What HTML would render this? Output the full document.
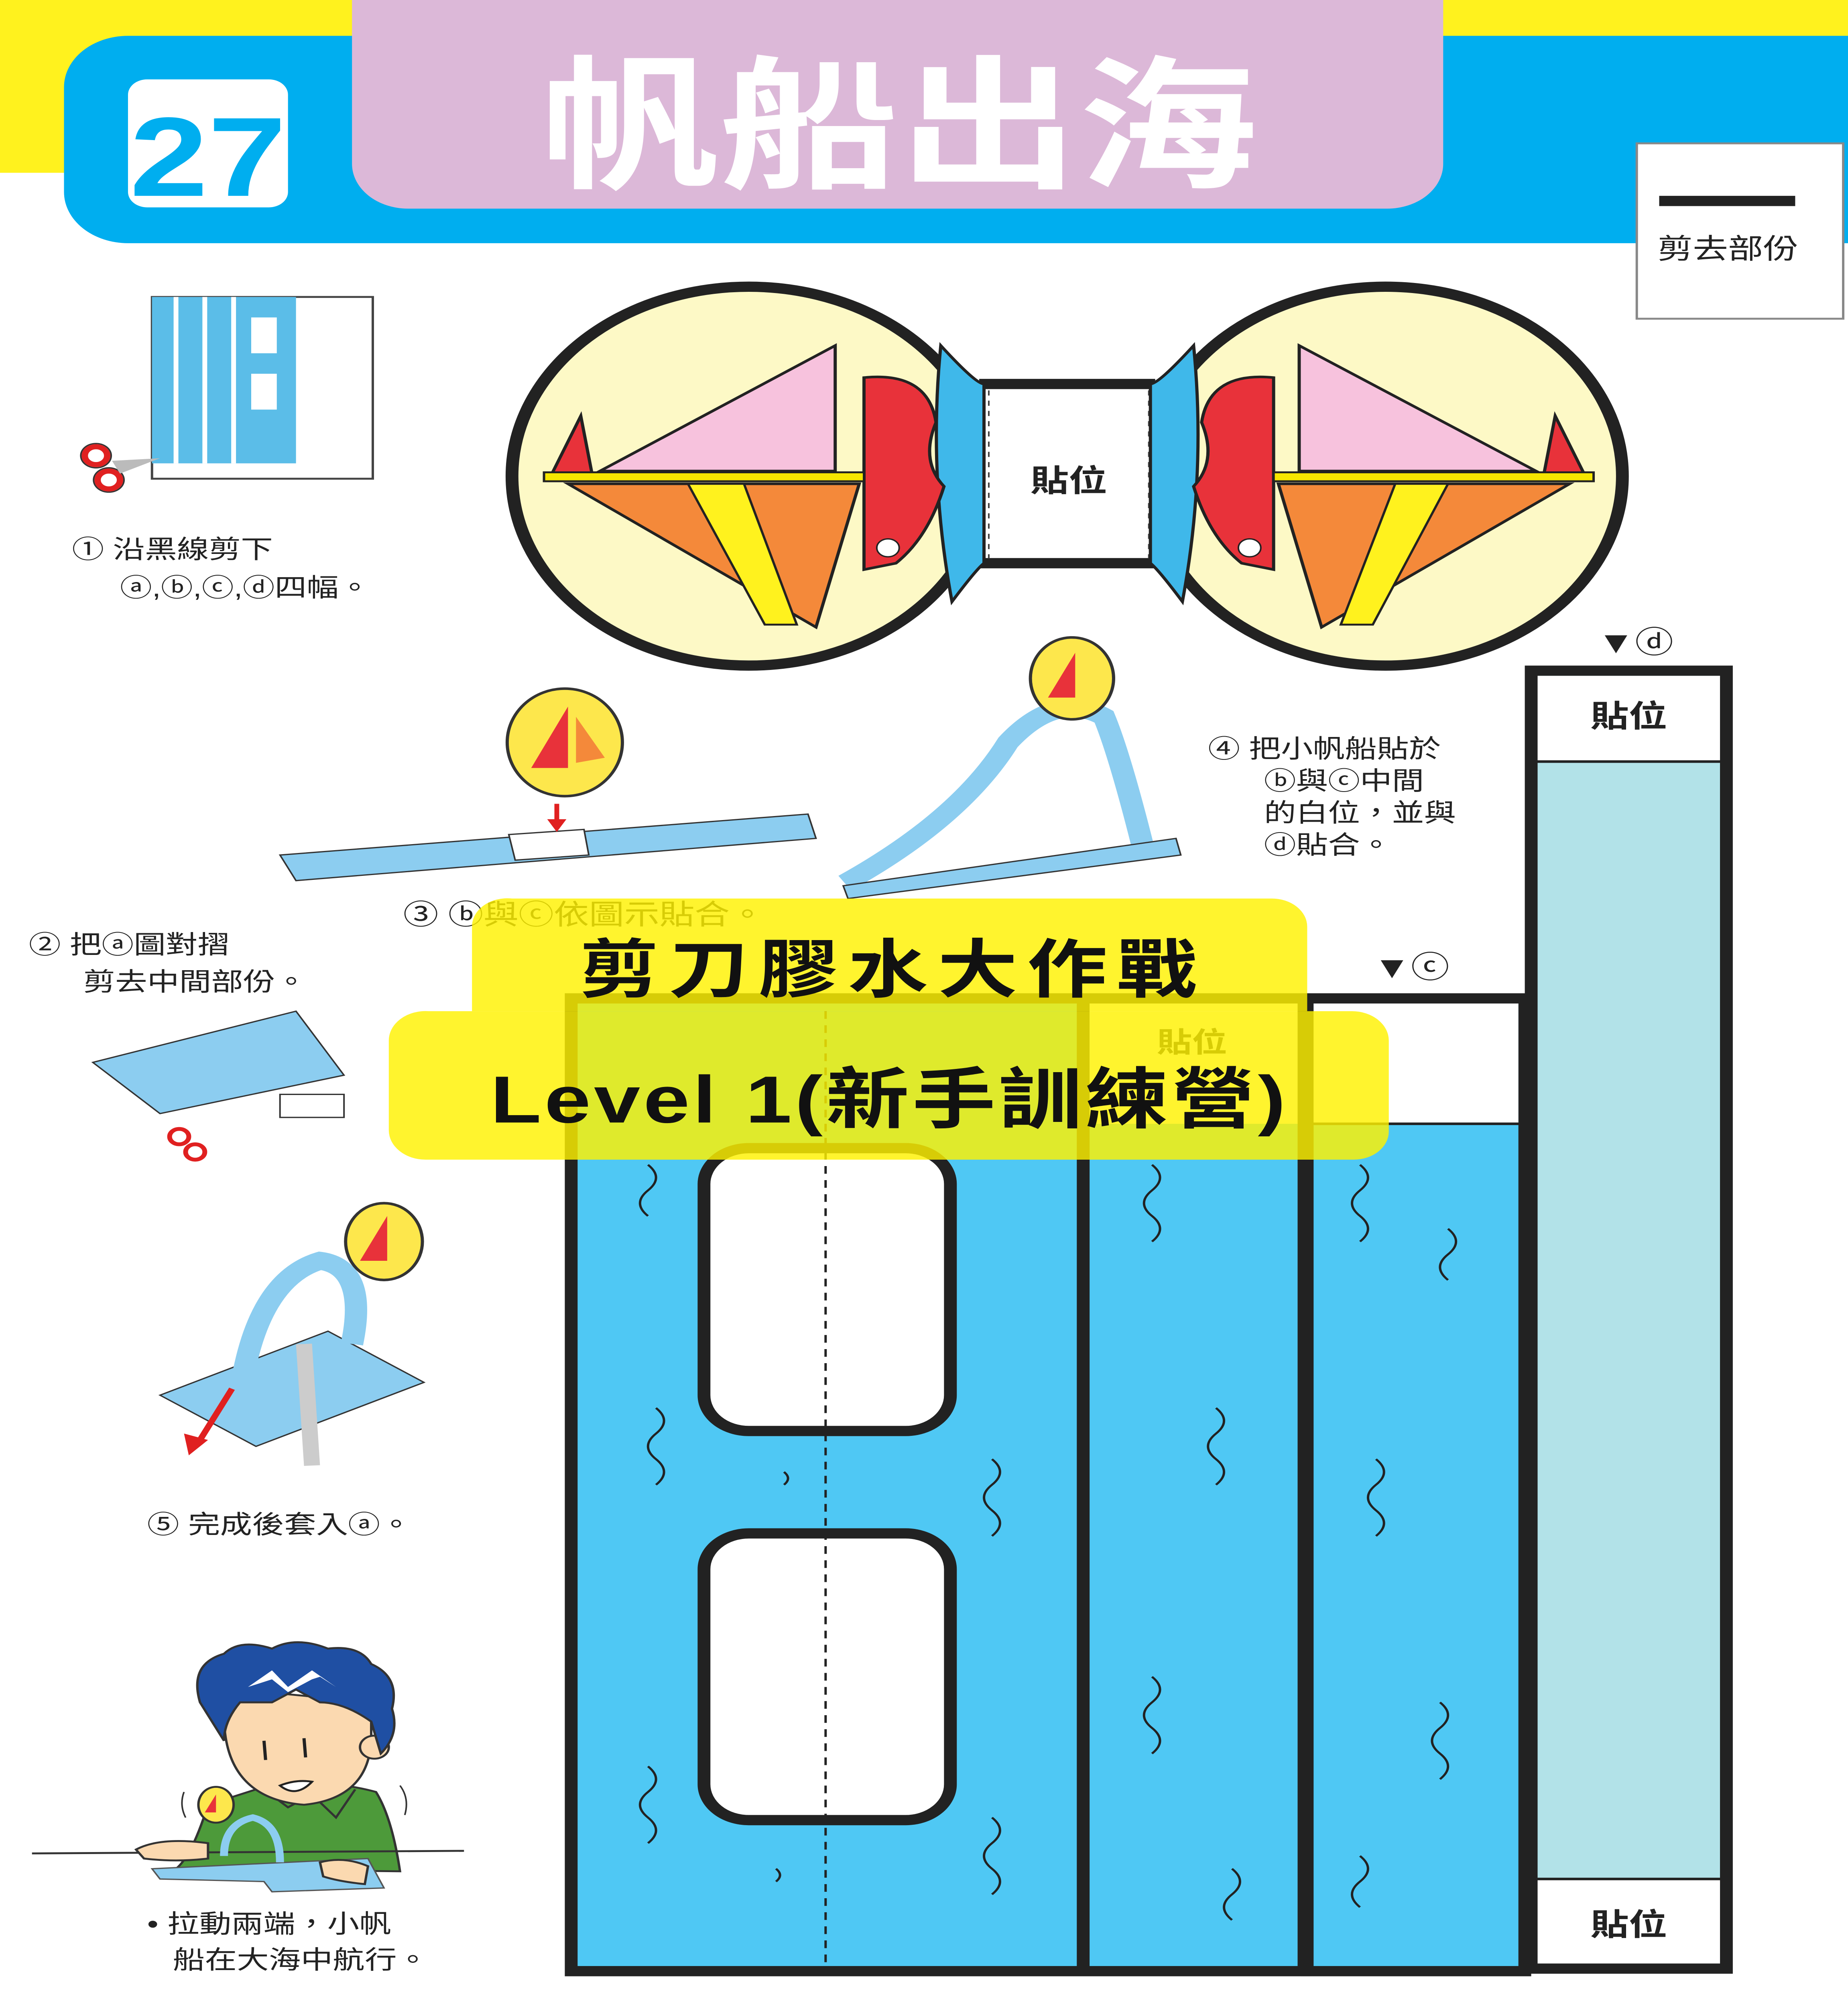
<!DOCTYPE html>
<html><head><meta charset="utf-8">
<style>
html,body{margin:0;padding:0;background:#fff;width:100%;height:100%;overflow:hidden;}
svg{display:block;position:fixed;left:0;top:0;width:100vw;height:100vh;}
text{font-family:"Liberation Sans","Noto Sans CJK TC",sans-serif;}
</style></head>
<body>
<svg viewBox="0 0 1155 1568" preserveAspectRatio="none" xmlns="http://www.w3.org/2000/svg">
<rect width="1155" height="1568" fill="#fff"/>
<!-- header -->
<rect x="0" y="0" width="230" height="135" fill="#fff21e"/>
<rect x="880" y="0" width="275" height="40" fill="#fff21e"/>
<path d="M80 28 H1155 V190 H80 A40 40 0 0 1 40 150 V68 A40 40 0 0 1 80 28Z" fill="#00aeef"/>
<rect x="80" y="62" width="100" height="100" rx="12" fill="#fff"/>
<text x="130" y="153" font-size="88" font-weight="bold" fill="#00aeef" text-anchor="middle" font-family="Liberation Sans,sans-serif">27</text>
<path d="M220 0 H902 V128 A35 35 0 0 1 867 163 H255 A35 35 0 0 1 220 128Z" fill="#dcb8d8"/>
<text x="562" y="138" font-size="112" font-weight="bold" fill="#fff" text-anchor="middle">帆船出海</text>
<rect x="1023" y="112" width="129" height="137" fill="#fff" stroke="#888" stroke-width="1.5"/>
<rect x="1037" y="153" width="85" height="8" fill="#222"/>
<text x="1080" y="202" font-size="22" text-anchor="middle" fill="#222" font-family="Noto Serif CJK SC,serif">剪去部份</text>

<!-- step1 illustration -->
<rect x="95" y="232" width="138" height="142" fill="#fff" stroke="#444" stroke-width="1.5"/>
<rect x="95" y="232" width="90" height="130" fill="#5bbde8"/>
<line x1="110" y1="232" x2="110" y2="362" stroke="#fff" stroke-width="3"/>
<line x1="128" y1="232" x2="128" y2="362" stroke="#fff" stroke-width="3"/>
<line x1="146" y1="232" x2="146" y2="362" stroke="#fff" stroke-width="3"/>
<rect x="157" y="248" width="16" height="28" fill="#fff"/><rect x="157" y="292" width="16" height="28" fill="#fff"/>
<circle cx="60" cy="356" r="7" fill="none" stroke="#e02020" stroke-width="4"/><circle cx="68" cy="375" r="7" fill="none" stroke="#e02020" stroke-width="4"/>
<circle cx="60" cy="356" r="9.5" fill="none" stroke="#333" stroke-width="1"/><circle cx="68" cy="375" r="9.5" fill="none" stroke="#333" stroke-width="1"/>
<path d="M70 360 L100 358 L75 370Z" fill="#bbb"/>
<text x="45" y="436" font-size="20" fill="#222">① 沿黑線剪下</text>
<text x="75" y="466" font-size="20" fill="#222">ⓐ,ⓑ,ⓒ,ⓓ四幅。</text>

<!-- glasses -->
<circle cx="468" cy="372" r="148" fill="#fdf9c6" stroke="#222" stroke-width="8"/>
<circle cx="866" cy="372" r="148" fill="#fdf9c6" stroke="#222" stroke-width="8"/>
<rect x="600" y="300" width="135" height="140" fill="#fff"/>
<line x1="612" y1="300" x2="722" y2="300" stroke="#222" stroke-width="8"/>
<line x1="612" y1="440" x2="722" y2="440" stroke="#222" stroke-width="8"/>
<line x1="618" y1="305" x2="618" y2="436" stroke="#444" stroke-dasharray="4 4"/>
<line x1="718" y1="305" x2="718" y2="436" stroke="#444" stroke-dasharray="4 4"/>
<text x="668" y="384" font-size="24" font-weight="bold" text-anchor="middle" fill="#222">貼位</text>
<!-- left boat -->
<path d="M588 270 Q610 300 615 300 V440 Q610 445 595 470 Q580 370 588 270Z" fill="#3fb8ea" stroke="#222" stroke-width="2"/>
<path d="M540 295 Q580 290 585 330 Q575 360 590 380 Q580 420 560 440 L540 445Z" fill="#e8323a" stroke="#222" stroke-width="2"/>
<circle cx="555" cy="428" r="7" fill="#fff" stroke="#222"/>
<polygon points="522,270 522,368 375,368" fill="#f7c2dd" stroke="#222" stroke-width="2"/>
<polygon points="363,325 345,370 370,370" fill="#e8323a" stroke="#222" stroke-width="2"/>
<rect x="340" y="369" width="200" height="7" fill="#f6e600" stroke="#222" stroke-width="1.5"/>
<polygon points="355,378 537,378 510,490" fill="#f4893a" stroke="#222" stroke-width="2"/>
<polygon points="430,378 465,378 498,488 478,488" fill="#fff21e" stroke="#222" stroke-width="1.5"/>
<!-- right boat -->
<path d="M746 270 Q724 300 719 300 V440 Q724 445 739 470 Q754 370 746 270Z" fill="#3fb8ea" stroke="#222" stroke-width="2"/>
<path d="M796 295 Q756 290 751 330 Q761 360 746 380 Q756 420 776 440 L796 445Z" fill="#e8323a" stroke="#222" stroke-width="2"/>
<circle cx="781" cy="428" r="7" fill="#fff" stroke="#222"/>
<polygon points="812,270 812,368 960,368" fill="#f7c2dd" stroke="#222" stroke-width="2"/>
<polygon points="972,325 990,370 965,370" fill="#e8323a" stroke="#222" stroke-width="2"/>
<rect x="796" y="369" width="200" height="7" fill="#f6e600" stroke="#222" stroke-width="1.5"/>
<polygon points="799,378 981,378 826,490" fill="#f4893a" stroke="#222" stroke-width="2"/>
<polygon points="872,378 905,378 858,488 838,488" fill="#fff21e" stroke="#222" stroke-width="1.5"/>

<!-- step3/4 illustrations -->
<polygon points="175,668 505,636 510,655 185,688" fill="#8ccdf0" stroke="#333"/>
<polygon points="318,652 365,648 368,668 322,672" fill="#fff" stroke="#333"/>
<ellipse cx="353" cy="580" rx="36" ry="42" fill="#fde74c" stroke="#333" stroke-width="2"/>
<polygon points="355,552 355,600 332,600" fill="#e8323a"/><polygon points="360,560 378,592 360,596" fill="#f4893a"/>
<path d="M348 628 V645" stroke="#e02020" stroke-width="3"/><polygon points="342,640 354,640 348,650" fill="#e02020"/>
<path d="M528 690 Q600 640 630 580 Q660 540 690 560 Q700 590 715 665" fill="none" stroke="#8ccdf0" stroke-width="14"/>
<polygon points="527,692 735,655 738,668 530,702" fill="#8ccdf0" stroke="#333"/>
<ellipse cx="670" cy="530" rx="26" ry="32" fill="#fde74c" stroke="#333" stroke-width="2"/>
<polygon points="672,510 672,545 655,545" fill="#e8323a"/>
<text x="755" y="592" font-size="20" fill="#222">④ 把小帆船貼於</text>
<text x="790" y="617" font-size="20" fill="#222">ⓑ與ⓒ中間</text>
<text x="790" y="642" font-size="20" fill="#222">的白位，並與</text>
<text x="790" y="667" font-size="20" fill="#222">ⓓ貼合。</text>
<text x="1022" y="510" font-size="24" text-anchor="middle" fill="#222">▼ⓓ</text>
<text x="882" y="764" font-size="24" text-anchor="middle" fill="#222">▼ⓒ</text>
<text x="252" y="722" font-size="22" fill="#222">③ ⓑ與ⓒ依圖示貼合。</text>
<text x="18" y="745" font-size="20" fill="#222">② 把ⓐ圖對摺</text>
<text x="52" y="774" font-size="20" fill="#222">剪去中間部份。</text>
<polygon points="58,830 185,790 215,840 100,870" fill="#8ccdf0" stroke="#333"/>
<rect x="175" y="855" width="40" height="18" fill="#fff" stroke="#333"/>
<circle cx="112" cy="888" r="6" fill="none" stroke="#e02020" stroke-width="3"/><circle cx="122" cy="900" r="6" fill="none" stroke="#e02020" stroke-width="3"/>

<!-- step5 -->
<polygon points="100,1090 205,1040 265,1080 160,1130" fill="#8ccdf0" stroke="#333"/>
<path d="M150 1090 Q160 1000 200 985 Q230 990 220 1050" fill="none" stroke="#8ccdf0" stroke-width="14"/>
<path d="M190 1050 L195 1145" stroke="#ccc" stroke-width="10"/>
<ellipse cx="240" cy="970" rx="24" ry="30" fill="#fde74c" stroke="#333" stroke-width="2"/>
<polygon points="242,950 242,985 225,985" fill="#e8323a"/>
<path d="M145 1085 L125 1125" stroke="#e02020" stroke-width="4"/><polygon points="115,1120 130,1125 118,1137" fill="#e02020"/>
<text x="92" y="1198" font-size="20" fill="#222">⑤ 完成後套入ⓐ。</text>

<!-- boy -->
<path d="M130 1410 Q120 1450 110 1460 L250 1462 Q245 1420 235 1400 Q200 1388 160 1398Z" fill="#4d9a3a" stroke="#333" stroke-width="1.5"/>
<path d="M165 1398 L180 1412 L195 1402 L210 1420 L222 1398" fill="none" stroke="#333" stroke-width="1.5"/>
<path d="M140 1340 Q140 1405 190 1410 Q230 1405 232 1360 L232 1330 L150 1320Z" fill="#fbd9b0" stroke="#333" stroke-width="1.5"/>
<circle cx="234" cy="1365" r="9" fill="#fbd9b0" stroke="#333" stroke-width="1.5"/>
<path d="M125 1330 Q118 1300 140 1292 Q150 1280 170 1288 Q185 1278 205 1288 Q225 1285 232 1300 Q250 1310 245 1335 Q250 1355 238 1370 L232 1345 Q215 1330 200 1330 L185 1320 L170 1330 L150 1330 Q140 1345 140 1360Z" fill="#1f4fa3" stroke="#333" stroke-width="1.5"/>
<path d="M155 1318 L170 1305 L180 1318 L195 1305 L210 1318 L200 1310 L195 1312 L180 1322 L170 1312Z" fill="#fff"/>
<line x1="165" y1="1360" x2="166" y2="1375" stroke="#222" stroke-width="2"/>
<line x1="190" y1="1358" x2="191" y2="1373" stroke="#222" stroke-width="2"/>
<path d="M175 1395 Q185 1405 195 1392 Q185 1390 175 1395Z" fill="#fff" stroke="#222" stroke-width="1.5"/>
<line x1="20" y1="1448" x2="290" y2="1446" stroke="#333" stroke-width="1.5"/>
<polygon points="95,1460 230,1452 240,1475 170,1478 165,1470 100,1468" fill="#8ccdf0" stroke="#555" stroke-width="1"/>
<path d="M85 1445 Q100 1435 130 1440 L130 1452 Q110 1455 90 1452Z" fill="#fbd9b0" stroke="#333" stroke-width="1.5"/>
<path d="M200 1455 Q215 1450 230 1458 L228 1472 Q212 1470 202 1466Z" fill="#fbd9b0" stroke="#333" stroke-width="1.5"/>
<path d="M140 1450 Q140 1425 158 1420 Q175 1425 175 1455" fill="none" stroke="#8ccdf0" stroke-width="5"/>
<ellipse cx="135" cy="1410" rx="11" ry="14" fill="#fde74c" stroke="#333" stroke-width="1.5"/>
<polygon points="135,1402 135,1416 128,1416" fill="#e8323a"/>
<path d="M115 1400 Q112 1410 116 1420 M250 1395 Q256 1405 253 1418" fill="none" stroke="#333"/>
<text x="92" y="1510" font-size="20" fill="#222">• 拉動兩端，小帆</text>
<text x="108" y="1538" font-size="20" fill="#222">船在大海中航行。</text>

<!-- strips -->
<rect x="357" y="780" width="458" height="760" fill="#4fc8f4" stroke="#222" stroke-width="8"/>
<line x1="677" y1="780" x2="677" y2="1540" stroke="#222" stroke-width="8"/>
<rect x="817" y="780" width="136" height="760" fill="#4fc8f4" stroke="#222" stroke-width="8"/>
<rect x="821" y="784" width="128" height="94" fill="#fff"/>
<line x1="817" y1="878" x2="953" y2="878" stroke="#222" stroke-width="2"/>
<rect x="681" y="784" width="130" height="94" fill="#fff"/>
<text x="745" y="822" font-size="22" font-weight="bold" text-anchor="middle" fill="#222">貼位</text>
<rect x="440" y="897" width="154" height="221" rx="28" fill="#fff" stroke="#222" stroke-width="8"/>
<rect x="440" y="1198" width="154" height="224" rx="28" fill="#fff" stroke="#222" stroke-width="8"/>
<line x1="516" y1="790" x2="516" y2="1540" stroke="#222" stroke-width="1.5" stroke-dasharray="6 5"/>
<g fill="none" stroke="#222" stroke-width="1.5">
<path d="M405 910 q10 10 0 20 q-10 10 0 20"/><path d="M410 1100 q10 10 0 20 q-10 10 0 20 q10 10 0 20"/>
<path d="M620 1140 q10 10 0 20 q-10 10 0 20 q10 10 0 20"/><path d="M405 1380 q10 10 0 20 q-10 10 0 20 q10 10 0 20"/>
<path d="M620 1420 q10 10 0 20 q-10 10 0 20 q10 10 0 20"/><path d="M720 910 q10 10 0 20 q-10 10 0 20 q10 10 0 20"/>
<path d="M760 1100 q10 10 0 20 q-10 10 0 20 q10 10 0 20"/><path d="M720 1310 q10 10 0 20 q-10 10 0 20 q10 10 0 20"/>
<path d="M770 1460 q10 10 0 20 q-10 10 0 20"/><path d="M850 910 q10 10 0 20 q-10 10 0 20 q10 10 0 20"/>
<path d="M905 960 q10 10 0 20 q-10 10 0 20"/><path d="M860 1140 q10 10 0 20 q-10 10 0 20 q10 10 0 20"/>
<path d="M900 1330 q10 10 0 20 q-10 10 0 20 q10 10 0 20"/><path d="M850 1450 q10 10 0 20 q-10 10 0 20"/>
<path d="M490 1150 q5 5 0 10"/><path d="M485 1460 q5 5 0 10"/>
</g>
<rect x="957" y="524" width="122" height="1014" fill="#b2e2e8" stroke="#222" stroke-width="8"/>
<rect x="961" y="528" width="114" height="67" fill="#fff"/>
<line x1="957" y1="595" x2="1079" y2="595" stroke="#222" stroke-width="2"/>
<rect x="961" y="1468" width="114" height="66" fill="#fff"/>
<line x1="957" y1="1468" x2="1079" y2="1468" stroke="#222" stroke-width="2"/>
<text x="1018" y="568" font-size="24" font-weight="bold" text-anchor="middle" fill="#222">貼位</text>
<text x="1018" y="1512" font-size="24" font-weight="bold" text-anchor="middle" fill="#222">貼位</text>
<line x1="817" y1="780" x2="953" y2="780" stroke="#222" stroke-width="8"/>

<!-- overlay -->
<g fill="#fff200" fill-opacity="0.82">
<path d="M320 702 H795 A22 22 0 0 1 817 724 V790 H295 V724 A22 22 0 0 1 320 702Z"/>
<path d="M268 790 H845 A23 23 0 0 1 868 813 V884 A22 22 0 0 1 846 906 H266 A23 23 0 0 1 243 883 V813 A23 23 0 0 1 268 790Z"/>
</g>
<text x="558" y="775" font-size="50" font-weight="bold" text-anchor="middle" fill="#111" letter-spacing="6">剪刀膠水大作戰</text>
<text x="556" y="877" font-size="52" font-weight="bold" text-anchor="middle" fill="#111" letter-spacing="2">Level 1(新手訓練營)</text>
</svg>
</body></html>
